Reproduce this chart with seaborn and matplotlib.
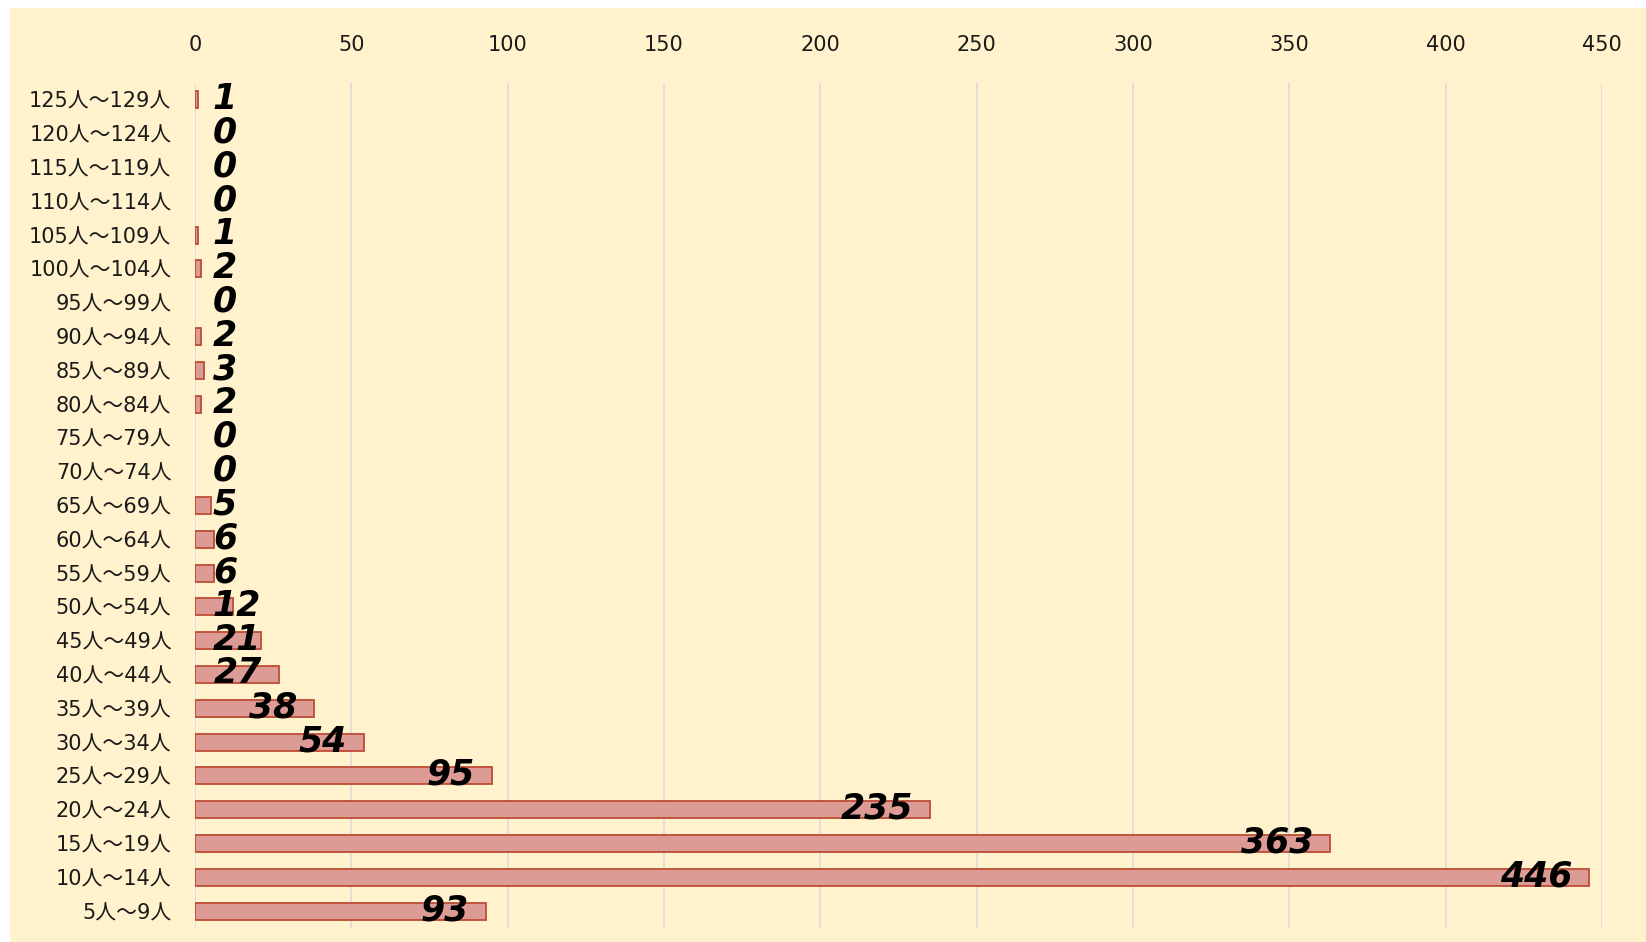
import matplotlib
matplotlib.use("Agg")
import matplotlib.pyplot as plt
import seaborn as sns
from matplotlib.patches import Rectangle

# --- Data (top row first) ---
categories = ["125人～129人", "120人～124人", "115人～119人", "110人～114人",
              "105人～109人", "100人～104人", "95人～99人", "90人～94人",
              "85人～89人", "80人～84人", "75人～79人", "70人～74人",
              "65人～69人", "60人～64人", "55人～59人", "50人～54人",
              "45人～49人", "40人～44人", "35人～39人", "30人～34人",
              "25人～29人", "20人～24人", "15人～19人", "10人～14人", "5人～9人"]
counts = [1, 0, 0, 0, 1, 2, 0, 2, 3, 2, 0, 0, 5, 6, 6, 12, 21, 27, 38, 54,
          95, 235, 363, 446, 93]
x_ticks = [0, 50, 100, 150, 200, 250, 300, 350, 400, 450]

bg = "#FFF2CC"
sns.set_style("white")
plt.rcParams['font.family'] = ['DejaVu Sans', 'Noto Sans CJK JP']

W, H = 1646, 942
fig = plt.figure(figsize=(W / 100, H / 100), dpi=100, facecolor="white")
fig.patches.append(Rectangle((10 / W, 0), 1, (H - 8) / H, transform=fig.transFigure,
                             facecolor=bg, edgecolor="none", zorder=-10))
ax = fig.add_axes([195 / W, (H - 928) / H, (1602 - 195) / W, (928 - 83) / H])
ax.set_facecolor(bg)

sns.barplot(x=counts, y=categories, orient="h", width=0.5, color="#DC9C95",
            saturation=1, ax=ax, zorder=3)
for p, v in zip(ax.patches, counts):
    p.set_edgecolor("#BE4B35")
    p.set_linewidth(1.3 if v > 0 else 0)

ax.set_xlim(0, 450)
ax.set_ylim(len(categories) - 0.5, -0.5)
ax.set_xticks(x_ticks)
ax.xaxis.tick_top()
ax.tick_params(axis="x", length=0, pad=20, labelsize=15, colors="#1a1a1a")
ax.tick_params(axis="y", length=0, pad=17, labelsize=15, colors="#1a1a1a")
ax.grid(axis="x", color="#DADADA", linewidth=1.2, zorder=0)
ax.set_axisbelow(True)
for s in ax.spines.values():
    s.set_visible(False)
ax.set_xlabel("")
ax.set_ylabel("")

# value labels, inside end; pushed to the start when the bar is too short
texts = []
for i, v in enumerate(counts):
    t = ax.annotate(str(v), xy=(v, i), xytext=(-17, 1), textcoords="offset pixels",
                    ha="right", va="center", fontsize=25, fontweight="bold",
                    fontstyle="italic", family="DejaVu Sans", color="black", zorder=5)
    texts.append(t)

fig.canvas.draw()
renderer = fig.canvas.get_renderer()
ax_x0 = ax.get_window_extent().x0
for i, t in enumerate(texts):
    bb = t.get_window_extent(renderer)
    if bb.x0 < ax_x0 + 18:
        t.xy = (0, i)
        t.set_position((18, 1))
        t.set_ha("left")

fig.savefig("out.png", dpi=100, facecolor="white")
